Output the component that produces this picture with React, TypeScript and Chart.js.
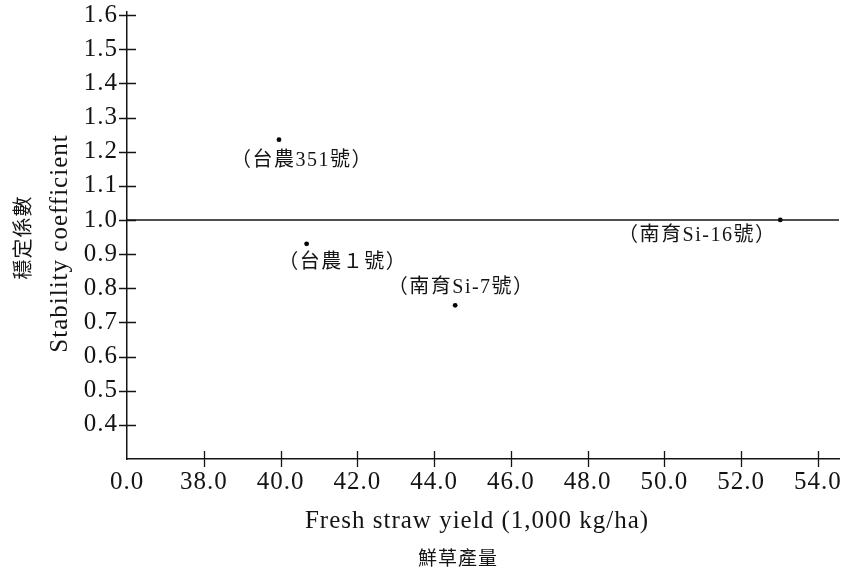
import React, { useEffect, useRef } from 'react';
import { Chart, registerables } from 'chart.js';

Chart.register(...registerables);

// ---- data ----
const varietyLabels = ['（台農351號）', '（台農１號）', '（南育Si-7號）', '（南育Si-16號）'];
const freshYield = [39.96, 40.68, 44.55, 53.02];
const stabilityCoef = [1.235, 0.93, 0.75, 1.0];
const referenceLevel = 1.0;

const xTickValues = [36, 38, 40, 42, 44, 46, 48, 50, 52, 54];
const xTickLabels = ['0.0', '38.0', '40.0', '42.0', '44.0', '46.0', '48.0', '50.0', '52.0', '54.0'];
const yTickValues = [0.4, 0.5, 0.6, 0.7, 0.8, 0.9, 1.0, 1.1, 1.2, 1.3, 1.4, 1.5, 1.6];
const yTickLabels = ['0.4', '0.5', '0.6', '0.7', '0.8', '0.9', '1.0', '1.1', '1.2', '1.3', '1.4', '1.5', '1.6'];

const xAxisTitle = 'Fresh straw yield (1,000 kg/ha)';
const xAxisTitleZh = '鮮草產量';
const yAxisTitle = 'Stability coefficient';
const yAxisTitleZh = '穩定係數';

// ---- axis range & styling ----
const X_MIN = 36;
const X_MAX = 54.55;
const Y_MIN = 0.3;
const Y_MAX = 1.609;
const INK = '#141414';
const LATIN = "'Liberation Serif', 'Times New Roman', serif";
const CJK = "'Noto Sans CJK TC', 'Noto Sans CJK SC', sans-serif";
const labelOffsets: [number, number][] = [[23, 21], [36, 19], [6, -18], [-83, 16]];

const spacingPlugin = {
  id: 'spacing',
  beforeUpdate(chart: any) { chart.ctx.letterSpacing = '1px'; },
  beforeLayout(chart: any) { chart.ctx.letterSpacing = '1px'; },
  beforeDraw(chart: any) { chart.ctx.letterSpacing = '1px'; },
};

const decorPlugin = {
  id: 'decor',
  afterDraw(chart: any) {
    const { ctx, chartArea } = chart;
    const xs = chart.scales.x;
    const ys = chart.scales.y;
    ctx.save();
    // tick marks crossing the axes
    ctx.strokeStyle = INK;
    ctx.lineWidth = 1.3;
    ctx.beginPath();
    for (const v of yTickValues) {
      const py = Math.round(ys.getPixelForValue(v)) + 0.5;
      ctx.moveTo(chartArea.left - 8, py);
      ctx.lineTo(chartArea.left + 9, py);
    }
    for (const v of xTickValues) {
      if (v === X_MIN) continue;
      const px = Math.round(xs.getPixelForValue(v)) + 0.5;
      ctx.moveTo(px, chartArea.bottom - 8);
      ctx.lineTo(px, chartArea.bottom + 8);
    }
    ctx.stroke();

    // point labels
    ctx.fillStyle = INK;
    ctx.textAlign = 'center';
    ctx.textBaseline = 'middle';
    ctx.letterSpacing = '1.5px';
    ctx.font = `20px 'Liberation Serif', ${CJK}`;
    varietyLabels.forEach((lab, i) => {
      const px = xs.getPixelForValue(freshYield[i]);
      const py = ys.getPixelForValue(stabilityCoef[i]);
      ctx.fillText(lab, px + labelOffsets[i][0], py + labelOffsets[i][1]);
    });

    // axis titles
    const cx = (chartArea.left + chartArea.right) / 2;
    ctx.letterSpacing = '1px';
    ctx.font = `25px ${LATIN}`;
    ctx.fillText(xAxisTitle, cx - 6, chartArea.bottom + 62);
    ctx.font = `19px ${CJK}`;
    ctx.fillText(xAxisTitleZh, cx - 25, chartArea.bottom + 99);

    const cy = (chartArea.top + chartArea.bottom) / 2;
    ctx.save();
    ctx.translate(60, cy + 8);
    ctx.rotate(-Math.PI / 2);
    ctx.font = `25px ${LATIN}`;
    ctx.fillText(yAxisTitle, 0, 0);
    ctx.restore();
    ctx.save();
    ctx.translate(22, cy + 2);
    ctx.rotate(-Math.PI / 2);
    ctx.font = `20px ${CJK}`;
    ctx.fillText(yAxisTitleZh, 0, 0);
    ctx.restore();
    ctx.restore();
  },
};

export default function App() {
  const ref = useRef<HTMLCanvasElement>(null);
  useEffect(() => {
    if (!ref.current) return;
    const chart = new Chart(ref.current, {
      type: 'scatter',
      data: {
        datasets: [
          {
            type: 'line',
            data: [{ x: X_MIN, y: referenceLevel }, { x: X_MAX, y: referenceLevel }],
            borderColor: INK,
            borderWidth: 1.5,
            pointRadius: 0,
            fill: false,
          } as any,
          {
            type: 'scatter',
            data: freshYield.map((x, i) => ({ x, y: stabilityCoef[i] })),
            backgroundColor: '#000',
            borderColor: '#000',
            pointRadius: 2.4,
            borderWidth: 0,
          },
        ],
      },
      options: {
        animation: false,
        responsive: false,
        layout: { padding: { top: 12, right: 8, left: 0, bottom: 0 } },
        plugins: { legend: { display: false }, tooltip: { enabled: false } },
        scales: {
          x: {
            type: 'linear',
            min: X_MIN,
            max: X_MAX,
            grid: { display: false, drawTicks: false },
            border: { display: true, color: INK, width: 1.5 },
            afterBuildTicks: (s: any) => { s.ticks = xTickValues.map((v) => ({ value: v })); },
            afterFit: (s: any) => { s.height = 112; s.paddingRight = 0; s.paddingLeft = 0; },
            ticks: {
              color: INK,
              padding: 8,
              maxRotation: 0,
              autoSkip: false,
              font: { family: LATIN, size: 25 },
              callback: (_v: any, i: number) => xTickLabels[i],
            },
          },
          y: {
            type: 'linear',
            min: Y_MIN,
            max: Y_MAX,
            grid: { display: false, drawTicks: false },
            border: { display: true, color: INK, width: 1.5 },
            afterBuildTicks: (s: any) => { s.ticks = yTickValues.map((v) => ({ value: v })); },
            afterFit: (s: any) => { s.width = 127; s.paddingTop = 0; s.paddingBottom = 0; },
            ticks: {
              color: INK,
              padding: 9,
              autoSkip: false,
              font: { family: LATIN, size: 25 },
              callback: (_v: any, i: number) => yTickLabels[i],
            },
          },
        },
      },
      plugins: [spacingPlugin, decorPlugin],
    });
    return () => chart.destroy();
  }, []);
  return (
    <div style={{ position: 'absolute', left: 0, top: 0, width: 847, height: 571 }}>
      <canvas ref={ref} width={847} height={571} style={{ display: 'block' }} />
    </div>
  );
}
